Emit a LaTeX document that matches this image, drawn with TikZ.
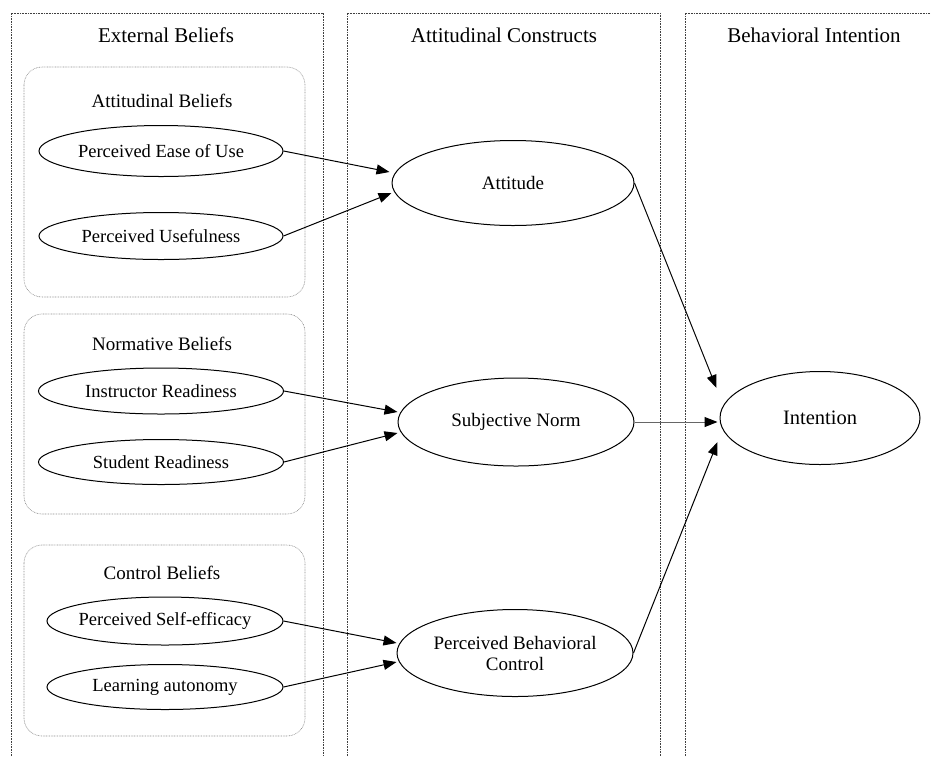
\documentclass[tikz,border=0pt]{standalone}
\usepackage{fontspec}
\setmainfont{Liberation Serif}
\usetikzlibrary{arrows.meta,shapes.geometric,calc}
\begin{document}
\begin{tikzpicture}[x=1pt,y=-1pt,
 frame/.style={draw=black!75, line width=0.7pt, dash pattern=on 0.8pt off 0.8pt},
 grp/.style={draw=black!45, line width=0.6pt, dash pattern=on 0.8pt off 0.8pt, rounded corners=18pt},
 ell/.style={ellipse, draw, line width=1pt, inner xsep=-30pt, inner ysep=-10pt, font=\fontsize{18.5}{21}\selectfont},
 cons/.style={ell, font=\fontsize{19}{21}\selectfont},
 head/.style={font=\fontsize{21}{24}\selectfont},
 sub/.style={font=\fontsize{19}{22}\selectfont},
 arr/.style={-{Triangle[length=13pt,width=10pt]}, line width=1pt}]
\useasboundingbox (0,0) rectangle (931,756);
% column frames
\draw[frame] (11,756) -- (11,13) -- (323,13) -- (323,756);
\draw[frame] (347,756) -- (347,13) -- (660,13) -- (660,756);
\draw[frame] (685,756) -- (685,13) -- (931,13);
\node[head] (h1) at (166,35) {External Beliefs};
\node[head] (h2) at (504,35) {Attitudinal Constructs};
\node[head] (h3) at (814,35) {Behavioral Intention};
% group boxes
\draw[grp] (24,67) rectangle (305,297);
\draw[grp] (24,314) rectangle (305,514);
\draw[grp] (24,545) rectangle (305,736);
\node[sub] (g1) at (162,101) {Attitudinal Beliefs};
\node[sub] (g2) at (162,344) {Normative Beliefs};
\node[sub] (g3) at (162,573) {Control Beliefs};
% belief ellipses
\node[ell, minimum width=244pt, minimum height=51pt] (peou) at (161,151) {Perceived Ease of Use};
\node[ell, minimum width=244pt, minimum height=47pt] (pu) at (161,236) {Perceived Usefulness};
\node[ell, minimum width=245pt, minimum height=46pt] (ir) at (161,391) {Instructor Readiness};
\node[ell, minimum width=245pt, minimum height=45pt] (sr) at (161,462) {Student Readiness};
\node[ell, minimum width=236pt, minimum height=48pt] (pse) at (165,621) {Perceived Self-efficacy};
\node[ell, minimum width=236pt, minimum height=45pt] (la) at (165,687) {Learning autonomy};
% constructs
\node[cons, minimum width=242pt, minimum height=85pt] (att) at (513,183) {Attitude};
\node[cons, minimum width=236pt, minimum height=88pt] (sn) at (516,422) {Subjective Norm};
\node[cons, minimum width=236pt, minimum height=87pt, align=center] (pbc) at (515,653) {Perceived Behavioral\\Control};
\node[ell, minimum width=200pt, minimum height=93pt, font=\fontsize{20.5}{24}\selectfont] (int) at (820,418) {Intention};
% arrows
\draw[arr] (peou.east) -- ($(att.west)+(-2,-11)$);
\draw[arr] (pu.east) -- ($(att.west)+(0,10)$);
\draw[arr] (ir.east) -- ($(sn.west)+(0,-10)$);
\draw[arr] (sr.east) -- ($(sn.west)+(0,11)$);
\draw[arr] (pse.east) -- ($(pbc.west)+(0,-10)$);
\draw[arr] (la.east) -- ($(pbc.west)+(0,9)$);
\draw[arr] (att.east) -- ($(int.west)+(-3,-30)$);
\draw[-{Triangle[length=13pt,width=10pt,color=black]}, line width=1pt, draw=black!60] (sn.east) -- ($(int.west)+(-2,4)$);
\draw[arr] (pbc.east) -- ($(int.west)+(-2,24)$);
\end{tikzpicture}
\end{document}
